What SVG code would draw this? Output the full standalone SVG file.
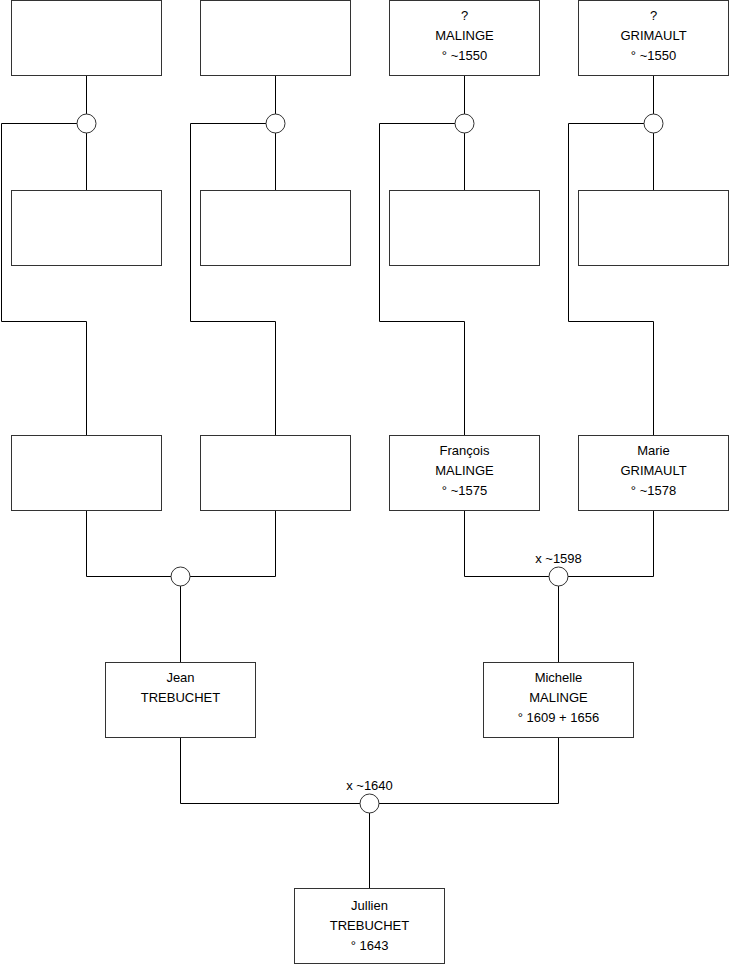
<svg xmlns="http://www.w3.org/2000/svg" width="740" height="975" viewBox="0 0 740 975">
<style>
.box{fill:#fff;stroke:#333;stroke-width:1}
.u{fill:#fff;stroke:#333;stroke-width:1}
.c{fill:none;stroke:#000;stroke-width:1}
text{font-family:"Liberation Sans",Arial,sans-serif;font-size:13px;fill:#000;text-anchor:middle}
</style>
<rect width="740" height="975" fill="#fff"/>
<g id="connectors">
<path class="c" d="M86.5 75.5V190.5M77 123.5H1.5V321.5H86.5V435.5"/>
<path class="c" d="M275.5 75.5V190.5M266 123.5H190.5V321.5H275.5V435.5"/>
<path class="c" d="M464.5 75.5V190.5M455 123.5H379.5V321.5H464.5V435.5"/>
<path class="c" d="M653.5 75.5V190.5M644 123.5H568.5V321.5H653.5V435.5"/>
<path class="c" d="M86.5 510.5V576.5H275.5V510.5M180.5 576.5V662.5"/>
<path class="c" d="M464.5 510.5V576.5H653.5V510.5M558.5 576.5V662.5"/>
<path class="c" d="M180.5 737.5V803.5H558.5V737.5M369.5 803.5V888.5"/>
</g>
<g id="p1"><rect class="box" x="11.5" y="0.5" width="150" height="75"/></g>
<g id="p2"><rect class="box" x="200.5" y="0.5" width="150" height="75"/></g>
<g id="p3"><rect class="box" x="389.5" y="0.5" width="150" height="75"/><text x="464.5" y="19.5">?</text><text x="464.5" y="39.5">MALINGE</text><text x="464.5" y="59.5">° ~1550</text></g>
<g id="p4"><rect class="box" x="578.5" y="0.5" width="150" height="75"/><text x="653.5" y="19.5">?</text><text x="653.5" y="39.5">GRIMAULT</text><text x="653.5" y="59.5">° ~1550</text></g>
<g id="u1"><circle class="u" cx="86.5" cy="123.5" r="9.5"/></g>
<g id="u2"><circle class="u" cx="275.5" cy="123.5" r="9.5"/></g>
<g id="u3"><circle class="u" cx="464.5" cy="123.5" r="9.5"/></g>
<g id="u4"><circle class="u" cx="653.5" cy="123.5" r="9.5"/></g>
<g id="s1"><rect class="box" x="11.5" y="190.5" width="150" height="75"/></g>
<g id="s2"><rect class="box" x="200.5" y="190.5" width="150" height="75"/></g>
<g id="s3"><rect class="box" x="389.5" y="190.5" width="150" height="75"/></g>
<g id="s4"><rect class="box" x="578.5" y="190.5" width="150" height="75"/></g>
<g id="g1"><rect class="box" x="11.5" y="435.5" width="150" height="75"/></g>
<g id="g2"><rect class="box" x="200.5" y="435.5" width="150" height="75"/></g>
<g id="francois"><rect class="box" x="389.5" y="435.5" width="150" height="75"/><text x="464.5" y="454.5">François</text><text x="464.5" y="474.5">MALINGE</text><text x="464.5" y="494.5">° ~1575</text></g>
<g id="marie"><rect class="box" x="578.5" y="435.5" width="150" height="75"/><text x="653.5" y="454.5">Marie</text><text x="653.5" y="474.5">GRIMAULT</text><text x="653.5" y="494.5">° ~1578</text></g>
<g id="u5"><circle class="u" cx="180.5" cy="576.5" r="9.5"/></g>
<g id="u6"><circle class="u" cx="558.5" cy="576.5" r="9.5"/><text x="558.5" y="562.5">x ~1598</text></g>
<g id="jean"><rect class="box" x="105.5" y="662.5" width="150" height="75"/><text x="180.5" y="681.5">Jean</text><text x="180.5" y="701.5">TREBUCHET</text></g>
<g id="michelle"><rect class="box" x="483.5" y="662.5" width="150" height="75"/><text x="558.5" y="681.5">Michelle</text><text x="558.5" y="701.5">MALINGE</text><text x="558.5" y="721.5">° 1609 + 1656</text></g>
<g id="u7"><circle class="u" cx="369.5" cy="803.5" r="9.5"/><text x="369.5" y="790">x ~1640</text></g>
<g id="jullien"><rect class="box" x="294.5" y="888.5" width="150" height="75"/><text x="369.5" y="910">Jullien</text><text x="369.5" y="929.5">TREBUCHET</text><text x="369.5" y="949.5">° 1643</text></g>
</svg>
